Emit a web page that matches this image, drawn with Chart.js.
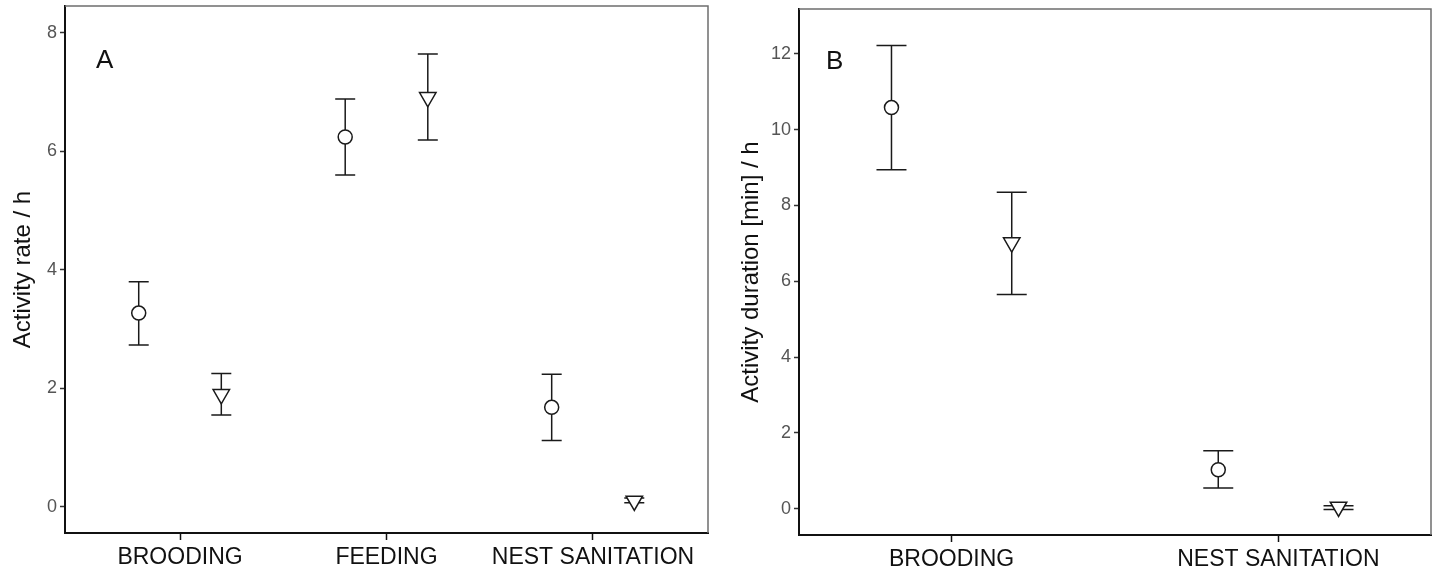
<!DOCTYPE html>
<html>
<head>
<meta charset="utf-8">
<script src="https://cdn.jsdelivr.net/npm/chart.js@4.4.1/dist/chart.umd.min.js"></script>
<style>
  html, body { margin: 0; padding: 0; background: #fff; }
  #wrap { position: relative; width: 1434px; height: 573px; }
  .panel { position: absolute; top: 0; height: 573px; }
</style>
</head>
<body>
<div id="wrap">
  <div class="panel" style="left:0;width:717px"><canvas id="chartA" width="717" height="573"></canvas></div>
  <div class="panel" style="left:717px;width:717px"><canvas id="chartB" width="717" height="573"></canvas></div>
</div>
<script>
// ---- Panel A: activity rate / h ----
const categoriesA = ['BROODING', 'FEEDING', 'NEST SANITATION'];
const circleMeanA = [3.27, 6.24, 1.68];
const circleLowA  = [2.73, 5.60, 1.12];
const circleHighA = [3.80, 6.88, 2.24];
const triMeanA = [1.90, 6.91, 0.10];
const triLowA  = [1.55, 6.19, 0.07];
const triHighA = [2.25, 7.64, 0.15];
const yTicksA = [0, 2, 4, 6, 8];

// ---- Panel B: activity duration [min] / h ----
const categoriesB = ['BROODING', 'NEST SANITATION'];
const circleMeanB = [10.58, 1.03];
const circleLowB  = [8.94, 0.55];
const circleHighB = [12.22, 1.53];
const triMeanB = [7.02, 0.05];
const triLowB  = [5.65, -0.02];
const triHighB = [8.35, 0.08];
const yTicksB = [0, 2, 4, 6, 8, 10, 12];

const FONT = '"Liberation Sans", Arial, sans-serif';

// error bars drawn under the markers
const errorBarPlugin = {
  id: 'errorBars',
  beforeDatasetsDraw(chart, args, opts) {
    const { ctx, scales: { x, y } } = chart;
    ctx.save();
    ctx.strokeStyle = '#1a1a1a';
    ctx.lineWidth = 1.5;
    chart.data.datasets.forEach(ds => {
      ds.data.forEach((pt, i) => {
        const px = x.getPixelForValue(pt.x);
        const lo = y.getPixelForValue(ds.errLow[i]);
        const hi = y.getPixelForValue(ds.errHigh[i]);
        ctx.beginPath();
        ctx.moveTo(px, lo); ctx.lineTo(px, hi);
        ctx.moveTo(px - opts.cap, lo); ctx.lineTo(px + opts.cap, lo);
        ctx.moveTo(px - opts.cap, hi); ctx.lineTo(px + opts.cap, hi);
        ctx.stroke();
      });
    });
    ctx.restore();
  }
};

// grey top/right frame and the panel letter
const framePlugin = {
  id: 'frame',
  afterDraw(chart, args, opts) {
    const { ctx, chartArea: a } = chart;
    ctx.save();
    ctx.strokeStyle = '#6e6e6e';
    ctx.lineWidth = 1.5;
    ctx.beginPath();
    ctx.moveTo(a.left, a.top);
    ctx.lineTo(a.right, a.top);
    ctx.lineTo(a.right, a.bottom);
    ctx.stroke();
    ctx.fillStyle = '#111';
    ctx.font = '26px ' + FONT;
    ctx.textBaseline = 'alphabetic';
    ctx.fillText(opts.letter, a.left + opts.dx, a.top + opts.dy);
    ctx.restore();
  }
};

function buildChart(id, cfg) {
  const offset = cfg.offset;
  const circles = cfg.circleMean.map((v, i) => ({ x: i + 1 - offset, y: v }));
  const triangles = cfg.triMean.map((v, i) => ({ x: i + 1 + offset, y: v }));
  const n = cfg.categories.length;

  return new Chart(document.getElementById(id), {
    type: 'scatter',
    data: {
      datasets: [
        {
          label: 'circle',
          data: circles,
          errLow: cfg.circleLow,
          errHigh: cfg.circleHigh,
          pointStyle: 'circle',
          pointRadius: 7,
          pointBackgroundColor: '#fff',
          pointBorderColor: '#1a1a1a',
          pointBorderWidth: 1.5
        },
        {
          label: 'triangle',
          data: triangles,
          errLow: cfg.triLow,
          errHigh: cfg.triHigh,
          pointStyle: 'triangle',
          rotation: 180,
          pointRadius: 9.5,
          pointBackgroundColor: '#fff',
          pointBorderColor: '#1a1a1a',
          pointBorderWidth: 1.5
        }
      ]
    },
    options: {
      responsive: false,
      animation: false,
      events: [],
      layout: {
        autoPadding: false,
        padding: { top: cfg.padTop, right: cfg.padRight, left: 0, bottom: 0 }
      },
      plugins: {
        legend: { display: false },
        tooltip: { enabled: false },
        errorBars: { cap: cfg.cap },
        frame: { letter: cfg.letter, dx: cfg.letterDx, dy: cfg.letterDy }
      },
      scales: {
        x: {
          type: 'linear',
          min: 1 - cfg.xPad,
          max: n + cfg.xPad,
          afterBuildTicks: s => { s.ticks = cfg.categories.map((c, i) => ({ value: i + 1 })); },
          afterFit: s => {
            s.height = cfg.xHeight;
            s.paddingLeft = 0; s.paddingRight = 0;
          },
          ticks: {
            callback: v => cfg.categories[v - 1],
            font: { family: FONT, size: 23 },
            color: '#111',
            padding: 4,
            maxRotation: 0
          },
          grid: { drawOnChartArea: false, color: '#111', tickLength: 7, tickWidth: 1.5 },
          border: { color: '#111', width: 2 }
        },
        y: {
          min: cfg.yMin,
          max: cfg.yMax,
          afterBuildTicks: s => { s.ticks = cfg.yTicks.map(v => ({ value: v })); },
          afterFit: s => {
            s.width = cfg.yWidth;
            s.paddingTop = 0; s.paddingBottom = 0;
          },
          ticks: {
            font: { family: FONT, size: 18 },
            color: '#555',
            padding: 3
          },
          grid: { drawOnChartArea: false, color: '#333', tickLength: 5, tickWidth: 1.5 },
          border: { color: '#111', width: 2 },
          title: {
            display: true,
            text: cfg.yTitle,
            font: { family: FONT, size: 24 },
            color: '#111',
            padding: { top: cfg.titlePad, bottom: 0 }
          }
        }
      }
    },
    plugins: [errorBarPlugin, framePlugin]
  });
}

buildChart('chartA', {
  categories: categoriesA,
  circleMean: circleMeanA, circleLow: circleLowA, circleHigh: circleHighA,
  triMean: triMeanA, triLow: triLowA, triHigh: triHighA,
  yTicks: yTicksA, yMin: -0.44, yMax: 8.45,
  yTitle: 'Activity rate / h',
  offset: 0.2, xPad: 0.557, cap: 10,
  yWidth: 65, xHeight: 40, padTop: 6, padRight: 9, titlePad: 9,
  letter: 'A', letterDx: 31, letterDy: 62
});

buildChart('chartB', {
  categories: categoriesB,
  circleMean: circleMeanB, circleLow: circleLowB, circleHigh: circleHighB,
  triMean: triMeanB, triLow: triLowB, triHigh: triHighB,
  yTicks: yTicksB, yMin: -0.69, yMax: 13.18,
  yTitle: 'Activity duration [min] / h',
  offset: 0.184, xPad: 0.467, cap: 15,
  yWidth: 82, xHeight: 38, padTop: 9, padRight: 3, titlePad: 20,
  letter: 'B', letterDx: 27, letterDy: 60
});
</script>
</body>
</html>
